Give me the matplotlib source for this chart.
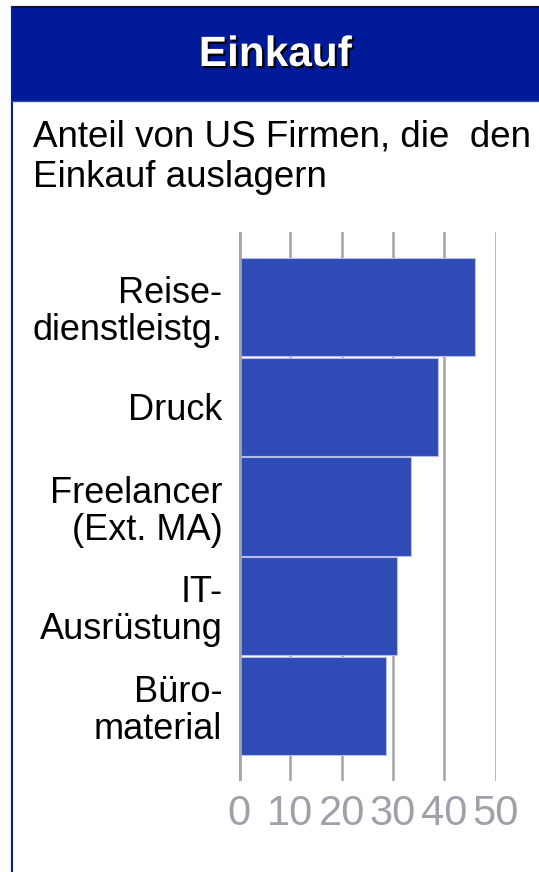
import matplotlib.pyplot as plt
import matplotlib.patheffects as pe
from matplotlib.patches import Rectangle
from matplotlib.lines import Line2D

plt.rcParams['font.family'] = ['Liberation Sans', 'DejaVu Sans']

# data (share of US firms, %)
categories = ['Reise-\ndienstleistg.', 'Druck', 'Freelancer\n(Ext. MA)', 'IT-\nAusrüstung', 'Büro-\nmaterial']
values = [45.9, 38.8, 33.5, 30.7, 28.6]
ticks = [0, 10, 20, 30, 40, 50]

W, H = 539, 872
fig = plt.figure(figsize=(W / 100, H / 100), dpi=100)

# header band and panel border
fig.patches.append(Rectangle((12 / W, 1 - 101 / H), 1, 94 / H, transform=fig.transFigure,
                             facecolor='#001a99', edgecolor='none', zorder=0))
fig.lines.append(Line2D([12 / W, 1], [1 - 7 / H, 1 - 7 / H], transform=fig.transFigure,
                        color='#101030', linewidth=1.5))
fig.lines.append(Line2D([12.5 / W, 12.5 / W], [0, 1 - 7 / H], transform=fig.transFigure,
                        color='#0a1aa0', linewidth=1.5))
fig.lines.append(Line2D([12 / W, 1], [1 - 101 / H, 1 - 101 / H], transform=fig.transFigure,
                        color='#3050b0', linewidth=1.0))

fig.text(275.5 / W, 1 - 55 / H, 'Einkauf', color='white', fontsize=30.5, fontweight='bold',
         ha='center', va='center',
         path_effects=[pe.SimplePatchShadow(offset=(1.6, -1.6), shadow_rgbFace='black', alpha=1.0),
                       pe.Normal()])

# subtitle, two lines
fig.text(33 / W, 1 - 146 / H, 'Anteil von US Firmen, die  den', fontsize=26.5, color='black',
         ha='left', va='baseline')
fig.text(33 / W, 1 - 187 / H, 'Einkauf auslagern', fontsize=26.5, color='black',
         ha='left', va='baseline')

ax = fig.add_axes([239 / W, 1 - 781 / H, (495.7 - 239) / W, (781 - 232) / H])
ypos = list(range(len(categories)))
ax.barh(ypos, values, height=0.985, color='#2f4cb6', edgecolor='#b4bdea', linewidth=0.8, zorder=3)

# grid lines, zero line thicker and on top
for t in ticks:
    ax.axvline(t, color='#a3a3ae', linewidth=3.4 if t == 0 else 1.8, zorder=1 if t else 4)

ax.set_xlim(0, 50)
ax.set_ylim(4.75, -0.75)
ax.set_xticks(ticks)
ax.set_xticklabels([str(t) for t in ticks], fontsize=30, color='#a0a0aa')
ax.set_yticks(ypos)
ax.set_yticklabels(categories, fontsize=26, color='black', linespacing=1.08)
ax.tick_params(axis='x', length=0, pad=9)
ax.tick_params(axis='y', length=0, pad=12)
for s in ax.spines.values():
    s.set_visible(False)
ax.set_facecolor('none')

fig.savefig('out.png', dpi=100)
